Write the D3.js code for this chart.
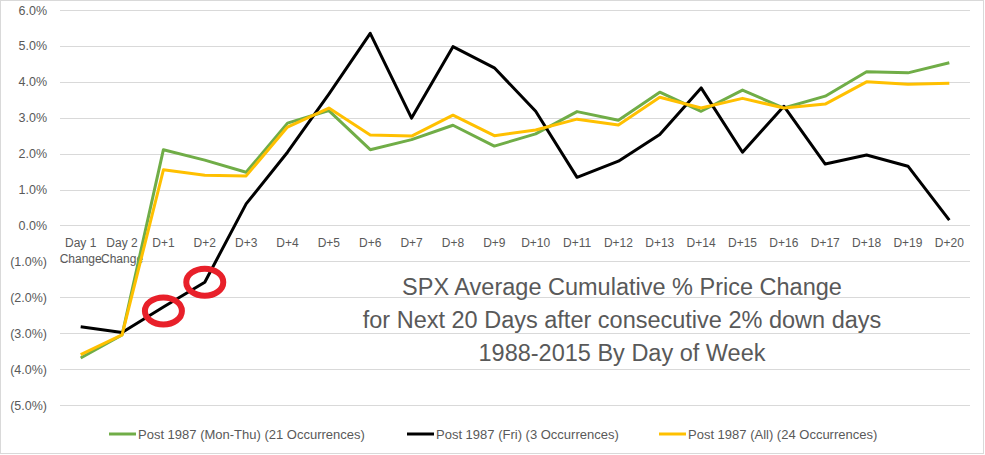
<!DOCTYPE html>
<html><head><meta charset="utf-8">
<script src="https://cdnjs.cloudflare.com/ajax/libs/d3/7.8.5/d3.min.js"></script>
<style>
html,body{margin:0;padding:0;background:#fff;}
svg{display:block;}
text{font-family:"Liberation Sans",Arial,sans-serif;fill:#595959;}
</style></head>
<body>
<svg id="chart" width="985" height="455"></svg>
<script>
const categories = ["Day 1|Change","Day 2|Change","D+1","D+2","D+3","D+4","D+5","D+6","D+7","D+8","D+9","D+10","D+11","D+12","D+13","D+14","D+15","D+16","D+17","D+18","D+19","D+20"];
const monThu = [-3.69,-3.05,2.11,1.82,1.48,2.85,3.2,2.11,2.39,2.79,2.21,2.55,3.17,2.93,3.71,3.18,3.77,3.27,3.6,4.28,4.25,4.53];
const fri    = [-2.82,-2.98,-2.27,-1.58,0.6,2.04,3.66,5.35,2.99,4.98,4.39,3.18,1.34,1.79,2.53,3.83,2.04,3.32,1.71,1.96,1.65,0.15];
const all    = [-3.6,-3.05,1.55,1.40,1.38,2.74,3.27,2.52,2.49,3.07,2.5,2.66,2.96,2.8,3.57,3.27,3.54,3.27,3.38,4.0,3.93,3.96];
const yTicks = [-5,-4,-3,-2,-1,0,1,2,3,4,5,6];
const seriesNames = ["Post 1987 (Mon-Thu) (21 Occurrences)","Post 1987 (Fri) (3 Occurrences)","Post 1987 (All) (24 Occurrences)"];
const highlighted = ["D+1","D+2"];
const titleLines = ["SPX Average Cumulative % Price Change","for Next 20 Days after consecutive 2% down days","1988-2015 By Day of Week"];

const series = [
  {name:seriesNames[0], values:monThu, color:"#70AD47"},
  {name:seriesNames[1], values:fri, color:"#000000"},
  {name:seriesNames[2], values:all, color:"#FFC000"}
];

const svg = d3.select("#chart");
const W = 985, H = 455;
svg.append("rect").attr("x",0.5).attr("y",0.5).attr("width",W-2).attr("height",H-2)
  .attr("fill","#fff").attr("stroke","#d9d9d9");

const x = d3.scalePoint().domain(categories).range([60,970]).padding(0.5);
const y = d3.scaleLinear().domain([-5,6]).range([405,10]);

// gridlines
svg.append("g").selectAll("line").data(yTicks).join("line")
  .attr("x1",60).attr("x2",970)
  .attr("y1",d=>Math.round(y(d))+0.5).attr("y2",d=>Math.round(y(d))+0.5)
  .attr("stroke","#d9d9d9").attr("stroke-width",1);

// y labels
const fmt = d=>{const s=Math.abs(d).toFixed(1)+"%";return d<0?"("+s+")":s;};
svg.append("g").selectAll("text").data(yTicks).join("text")
  .attr("x",47).attr("y",d=>y(d)+4.5).attr("text-anchor","end")
  .attr("font-size",12.5).text(fmt);

// x labels
const xl = svg.append("g").selectAll("text").data(categories).join("text")
  .attr("text-anchor","middle").attr("font-size",12)
  .attr("transform",d=>`translate(${x(d)},${y(0)+22})`);
xl.each(function(d){
  const parts = d.split("|");
  const t = d3.select(this);
  parts.forEach((p,i)=>t.append("tspan").attr("x",0).attr("dy",i===0?0:16).text(p));
});

// lines
const line = d3.line().x((d,i)=>x(categories[i])).y(d=>y(d));
svg.append("g").selectAll("path").data(series).join("path")
  .attr("d",d=>line(d.values)).attr("fill","none")
  .attr("stroke",d=>d.color).attr("stroke-width",3)
  .attr("stroke-linejoin","round");

// red circle annotations on Fri series
svg.append("g").selectAll("ellipse").data(highlighted).join("ellipse")
  .attr("cx",d=>x(d)).attr("cy",d=>y(fri[categories.indexOf(d)])+(d==="D+1"?4:0))
  .attr("rx",18.5).attr("ry",13.5)
  .attr("fill","none").attr("stroke","#E8202A").attr("stroke-width",6);

// title
svg.append("g").selectAll("text").data(titleLines).join("text")
  .attr("x",622).attr("y",(d,i)=>295+i*33).attr("text-anchor","middle")
  .attr("font-size",23.5).attr("font-family","Lato, 'Liberation Sans', sans-serif").text(d=>d);

// legend
const legX = [109,407,659];
const lg = svg.append("g").selectAll("g").data(series).join("g")
  .attr("transform",(d,i)=>`translate(${legX[i]},434)`);
lg.append("line").attr("x1",0).attr("x2",27).attr("y1",0).attr("y2",0)
  .attr("stroke",d=>d.color).attr("stroke-width",3);
lg.append("text").attr("x",29).attr("y",4.5).attr("font-size",13).text(d=>d.name);
</script>
</body></html>
